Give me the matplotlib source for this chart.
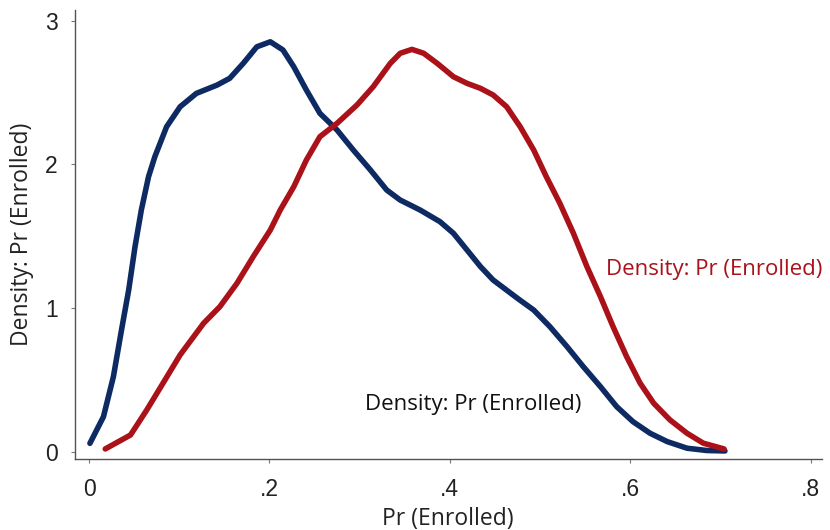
import matplotlib
matplotlib.use("Agg")
import matplotlib.pyplot as plt

blue_x = [0.001, 0.016, 0.027, 0.036, 0.044, 0.051, 0.058, 0.066, 0.073, 0.086, 0.101, 0.119,
          0.142, 0.156, 0.171, 0.186, 0.201, 0.215, 0.227, 0.241, 0.256, 0.275, 0.293, 0.312,
          0.330, 0.345, 0.367, 0.389, 0.404, 0.419, 0.434, 0.448, 0.476, 0.493, 0.511, 0.530,
          0.548, 0.567, 0.585, 0.603, 0.622, 0.641, 0.663, 0.685, 0.705]
blue_y = [0.060, 0.245, 0.523, 0.848, 1.127, 1.428, 1.683, 1.915, 2.054, 2.262, 2.401, 2.494,
          2.552, 2.599, 2.703, 2.818, 2.853, 2.796, 2.679, 2.517, 2.355, 2.239, 2.100, 1.961,
          1.822, 1.752, 1.683, 1.602, 1.521, 1.405, 1.289, 1.196, 1.064, 0.987, 0.871, 0.732,
          0.593, 0.454, 0.315, 0.211, 0.130, 0.072, 0.026, 0.010, 0.007]

red_x = [0.018, 0.046, 0.064, 0.082, 0.101, 0.127, 0.145, 0.164, 0.182, 0.201, 0.212, 0.227,
         0.241, 0.256, 0.275, 0.297, 0.315, 0.334, 0.345, 0.358, 0.371, 0.386, 0.404, 0.419,
         0.434, 0.448, 0.463, 0.478, 0.493, 0.507, 0.522, 0.537, 0.552, 0.567, 0.581, 0.596,
         0.611, 0.626, 0.644, 0.663, 0.681, 0.704]
red_y = [0.021, 0.118, 0.292, 0.478, 0.675, 0.895, 1.010, 1.173, 1.358, 1.544, 1.683, 1.845,
         2.031, 2.193, 2.286, 2.413, 2.540, 2.703, 2.773, 2.800, 2.773, 2.703, 2.610, 2.564,
         2.529, 2.483, 2.401, 2.262, 2.100, 1.914, 1.729, 1.521, 1.289, 1.080, 0.871, 0.663,
         0.478, 0.339, 0.223, 0.130, 0.061, 0.021]

x_ticks = [0, 0.2, 0.4, 0.6, 0.8]
x_tick_labels = ["0", ".2", ".4", ".6", ".8"]
y_ticks = [0, 1, 2, 3]
y_tick_labels = ["0", "1", "2", "3"]
label_text = "Density: Pr (Enrolled)"
x_label = "Pr (Enrolled)"

BLUE = "#0d2a62"
RED = "#ab1119"

fig = plt.figure(figsize=(8.3, 5.3), dpi=100)
ax = fig.add_axes([74.5/830, 1 - 459/530, (822-74.5)/830, (459-10)/530])

ax.plot(blue_x, blue_y, color=BLUE, lw=4.0, solid_capstyle="round", solid_joinstyle="round")
ax.plot(red_x, red_y, color=RED, lw=4.0, solid_capstyle="round", solid_joinstyle="round")

ax.set_xlim(-0.0161, 0.8126)
ax.set_ylim(-0.049, 3.074)

ax.set_xticks(x_ticks)
ax.set_xticklabels(x_tick_labels, fontsize=16.5, family="Liberation Sans", color="#222222")
ax.set_yticks(y_ticks)
ax.set_yticklabels(y_tick_labels, fontsize=16.5, family="Liberation Sans", color="#222222")
ax.tick_params(axis="x", length=3, width=0.8, color="#777777", pad=11)
ax.tick_params(axis="y", length=3, width=0.8, color="#777777", pad=9)

for s in ["top", "right"]:
    ax.spines[s].set_visible(False)
for s in ["left", "bottom"]:
    ax.spines[s].set_color("#5a4f4f")
    ax.spines[s].set_linewidth(1.0)

ax.set_ylabel(label_text, fontsize=16.5, family="Open Sans", color="#222222", labelpad=8)
ax.set_xlabel(x_label, fontsize=16.5, family="Open Sans", color="#222222", labelpad=4)

ax.text(0.573, 1.27, label_text, color=RED, fontsize=16, family="Open Sans", va="center", ha="left")
ax.text(0.306, 0.33, label_text, color="#111111", fontsize=16, family="Open Sans", va="center", ha="left")

fig.savefig("out.png", dpi=100)
